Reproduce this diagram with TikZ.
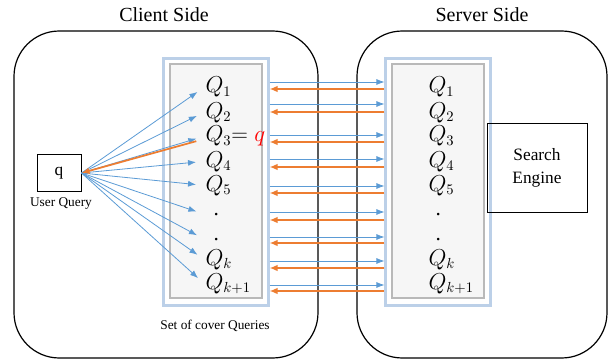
\documentclass[tikz,border=0pt]{standalone}
\usepackage{fontspec}
\setmainfont{Liberation Serif}
\usepackage{amsmath, amssymb}
\usetikzlibrary{arrows.meta}
\definecolor{qblue}{RGB}{91,155,213}
\definecolor{qorange}{RGB}{237,125,49}
\definecolor{frameblue}{RGB}{188,208,232}
\tikzset{every picture/.style={line width=0.75pt}}
\tikzset{
  side/.style={draw, rounded corners=34pt, line width=0.9pt},
  listframe/.style={draw=frameblue, line width=1.6pt, fill=white, minimum width=0.75*105pt, minimum height=0.75*247pt},
  listpanel/.style={draw=gray!55, line width=1.3pt, fill=gray!7, minimum width=0.75*92pt, minimum height=0.75*234pt},
  qlabel/.style={anchor=base west, inner sep=0.75pt, font=\fontsize{16}{19}\selectfont},
  sendline/.style={draw=qblue, line width=0.6pt, -{Latex[length=6pt,width=4.5pt]}},
  backline/.style={draw=qorange, line width=1.3pt, -{Latex[length=6pt,width=5pt]}},
}

\begin{document}
\begin{tikzpicture}[x=0.75pt,y=0.75pt,yscale=-1,xscale=1]
\useasboundingbox (0,0) rectangle (611,360);

%Shape: Rounded Rect, client
\draw[side] (14,31) rectangle (318,358);
%Shape: Rounded Rect, server
\draw[side] (357,31) rectangle (607,358);

% Text Node
\node[font=\fontsize{15}{18}\selectfont] (ctitle) at (164,15) {Client Side};
% Text Node
\node[font=\fontsize{15}{18}\selectfont] (stitle) at (482,15) {Server Side};

%Shape: query lists
\node[listframe] (cframe) at (216,182) {};
\node[listpanel] (cpanel) at (216,181) {};
\node[listframe] (sframe) at (438,182) {};
\node[listpanel] (spanel) at (438,181) {};

% Text Node
\node[draw, minimum width=0.75*44pt, minimum height=0.75*36pt, inner sep=0.75pt, font=\fontsize{13}{15}\selectfont] (qbox) at (59,173) {q};
% Text Node
\node[inner sep=0.75pt, font=\fontsize{10}{12}\selectfont] (uq) at (61,204) {User Query};
% Text Node
\node[inner sep=0.75pt, font=\fontsize{10}{12}\selectfont] (cover) at (215,326) {Set of cover Queries};
% Text Node
\node[draw, minimum width=0.75*100pt, minimum height=0.75*88pt, align=center, font=\fontsize{13}{17}\selectfont] (engine) at (537,168) {Search\\Engine};

% Text Nodes, client list
\node[qlabel] (cq1) at (204,93) {$Q_1$};
\node[qlabel] (cq2) at (204,118) {$Q_2$};
\node[qlabel] (cq3) at (204,142) {$Q_3{=}\;{\color{red}q}$};
\node[qlabel] (cq4) at (204,167) {$Q_4$};
\node[qlabel] (cq5) at (204,191) {$Q_5$};
\node[qlabel] (cq6) at (212,215) {.};
\node[qlabel] (cq7) at (212,240) {.};
\node[qlabel] (cq8) at (204,265) {$Q_k$};
\node[qlabel] (cq9) at (204,289) {$Q_{k+1}$};

% Text Nodes, server list
\node[qlabel] (sq1) at (427,93) {$Q_1$};
\node[qlabel] (sq2) at (427,118) {$Q_2$};
\node[qlabel] (sq3) at (427,142) {$Q_3$};
\node[qlabel] (sq4) at (427,167) {$Q_4$};
\node[qlabel] (sq5) at (427,191) {$Q_5$};
\node[qlabel] (sq6) at (434,215) {.};
\node[qlabel] (sq7) at (434,240) {.};
\node[qlabel] (sq8) at (427,265) {$Q_k$};
\node[qlabel] (sq9) at (427,289) {$Q_{k+1}$};

%Straight Lines, q to every cover query
\foreach \i in {1,...,9}
  \draw[sendline, shorten >=6pt] (qbox.east) -- (cq\i.west -| cq1.west) ;
%Straight Lines, real query comes back
\draw[backline, shorten <=6pt] ([yshift=2pt]cq3.west) -- (qbox.east) ;

%Straight Lines, requests and replies
\foreach \b/\o in {82/89,104/112,135/142,159/167,186/193,212/220,237/243,261/268,285/291}
{
  \draw[sendline] (cframe.east |- 0,\b) -- (sframe.west |- 0,\b) ;
  \draw[backline] (sframe.west |- 0,\o) -- (cframe.east |- 0,\o) ;
}

\end{tikzpicture}
\end{document}
